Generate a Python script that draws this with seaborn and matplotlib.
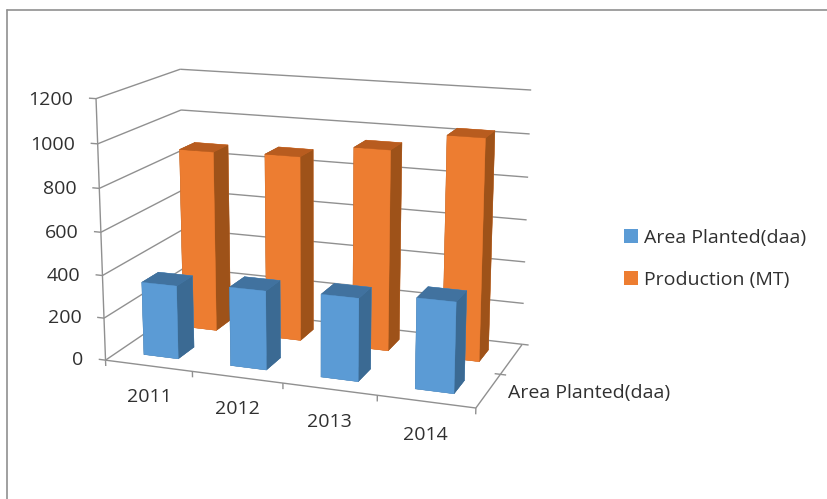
import numpy as np
import matplotlib
matplotlib.use("Agg")
import matplotlib.pyplot as plt
from matplotlib.patches import Patch
from matplotlib.lines import Line2D
from mpl_toolkits.mplot3d import proj3d
import seaborn as sns

years = ["2011", "2012", "2013", "2014"]
series_names = ["Area Planted(daa)", "Production (MT)"]
area_planted = [345, 367, 380, 410]
production = [873, 882, 945, 1030]
z_ticks = [0, 200, 400, 600, 800, 1000, 1200]

sns.set_theme(style="white")
plt.rcParams["font.family"] = ["Open Sans", "DejaVu Sans"]

W, H = 828, 499
LINE = "#909090"
TEXT = "#303030"
FS = 14
fig = plt.figure(figsize=(W/100, H/100), dpi=100, facecolor="white")
ax = fig.add_axes([65.45/W, 21.5/H, 489.8/W, 489.8/H], projection="3d")
ax.computed_zorder = False
ax.set_xlim(0, 4, view_margin=0)
ax.set_ylim(0, 1, view_margin=0)
ax.set_zlim(0, 1200, view_margin=0)
ax.set_xticks([])
ax.set_yticks([])
ax.set_zticks([])
ax.view_init(elev=14.713, azim=-69.945)
ax.set_proj_type("persp", focal_length=0.5909)
ax.set_box_aspect((1.4377, 0.72, 1))
ax.set_axis_off()
PROJ = ax.get_proj()


def seg(xs, ys, zs, lw=1.0):
    ax.plot(xs, ys, zs, color=LINE, lw=lw, zorder=1, solid_capstyle="butt")


def label(x, y, z, s, ha):
    # project the 3D anchor through the axes' own camera, then place an ordinary text there
    xv, yv, _ = proj3d.proj_transform(x, y, z, PROJ)
    ax.text2D(xv, yv, s, transform=ax.transData, ha=ha, va="center", fontsize=FS, color=TEXT)


for v in z_ticks:
    seg([0, 0], [0, 1], [v, v])
    seg([0, 4], [1, 1], [v, v])
    seg([-0.08, 0], [0, 0], [v, v])
    label(-0.26, 0, v - 14, str(v), "right")
seg([0, 0], [0, 0], [0, 1200])
seg([0, 4], [0, 0], [0, 0])
seg([4, 4], [0, 1], [0, 0])
for i in range(len(years) + 1):
    seg([i, i], [0, 0], [0, -28])
seg([3.94, 4.06], [0.5, 0.5], [0, 0])
seg([4, 4.07], [1, 1], [0, 0])

for i, y in enumerate(years):
    label(i + 0.5, 0, -150, y, "center")
label(4.2, 0.25, 0, series_names[0], "left")


def bars(values, y0, front, side, top, zo):
    n = len(values)
    xs = np.arange(n) + 0.3
    cols = [top, top, front, front, side, side] * n
    ax.bar3d(xs, [y0] * n, [0] * n, 0.4, 0.2, values, color=cols, edgecolor=cols,
             linewidth=0.3, shade=False, zorder=zo)


bars(production, 0.65, "#ED7D31", "#9E5219", "#B85C1F", 2)
bars(area_planted, 0.15, "#5B9BD5", "#3B6A93", "#41729F", 3)

handles = [Patch(facecolor="#5B9BD5", edgecolor="none", label=series_names[0]),
           Patch(facecolor="#ED7D31", edgecolor="none", label=series_names[1])]
fig.legend(handles=handles, loc="upper left", bbox_to_anchor=(620/W, 1 - 225/H), frameon=False,
           fontsize=FS, labelcolor=TEXT, handlelength=0.72, handleheight=0.72,
           handletextpad=0.3, labelspacing=1.25, borderaxespad=0, borderpad=0.2)

fig.add_artist(Line2D([7/W, 7/W], [0, 1 - 10/H], color=LINE, lw=1.2))
fig.add_artist(Line2D([7/W, 1], [1 - 10/H, 1 - 10/H], color=LINE, lw=1.2))

fig.savefig("out.png", dpi=100, facecolor="white")
